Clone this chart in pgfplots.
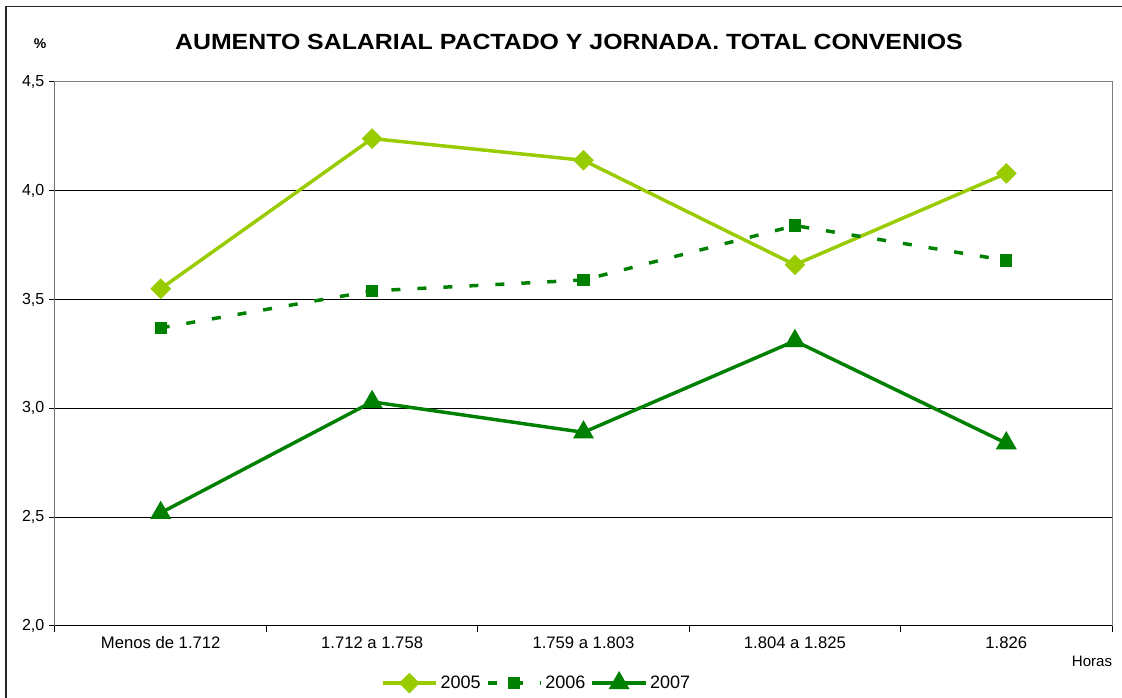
\documentclass[border=0pt]{standalone}
\usepackage{pgfplots}
\pgfplotsset{compat=1.18}
\usepackage{fontspec}
\setmainfont{Liberation Sans}
\definecolor{lightg}{HTML}{99CC00}
\definecolor{darkg}{HTML}{008000}
\begin{document}
\begin{tikzpicture}[x=0.75pt,y=0.75pt]
\useasboundingbox (0,0) rectangle (1122,698);
\draw[line width=1.1pt, black!85] (6,-5) -- (6,691.5) -- (1130,691.5);
\node[font=\fontsize{16.5}{20}\selectfont\bfseries, xscale=1.13] at (569,656) {AUMENTO SALARIAL PACTADO Y JORNADA. TOTAL CONVENIOS};
\node[font=\fontsize{10.5}{12}\selectfont\bfseries] at (40,654) {\%};
\node[font=\fontsize{11.3}{13}\selectfont] at (1092,37) {Horas};
\begin{axis}[
  at={(41.25pt,54pt)}, anchor=south west, scale only axis,
  width=792.75pt, height=408pt,
  xmin=-0.5, xmax=4.5, ymin=2, ymax=4.5,
  xtick={0,...,4},
  xticklabels={Menos de 1.712, 1.712 a 1.758, 1.759 a 1.803, 1.804 a 1.825, 1.826},
  major x tick style={draw=none},
  minor xtick={-0.5,0.5,1.5,2.5,3.5,4.5},
  ytick={2,2.5,...,4.5},
  ymajorgrids,
  grid style={black, line width=0.75pt},
  tick align=outside, tick pos=left,
  major tick length=4.5pt, minor tick length=4.5pt,
  tick style={black, line width=0.75pt},
  axis line style={draw=black!50, line width=0.75pt},
  xticklabel style={font=\fontsize{12.5}{14}\selectfont},
  yticklabel style={font=\fontsize{12}{14}\selectfont, /pgf/number format/.cd, fixed, fixed zerofill, precision=1, use comma, assume math mode=true},
  legend style={at={(0.456,-0.105)}, anchor=center, draw=none, fill=none,
    font=\fontsize{13.5}{15}\selectfont, legend columns=3,
    /tikz/every even column/.append style={column sep=2pt}},
  legend cell align=left,
  legend image code/.code={\draw[mark repeat=2,mark phase=2] plot coordinates {(0pt,0pt) (20pt,0pt) (40pt,0pt)};},
]
\addplot[lightg, line width=2.6pt, mark=square*, mark size=4.2pt, mark options={rotate=45}]
  coordinates {(0,3.55)(1,4.24)(2,4.14)(3,3.66)(4,4.08)};
\addlegendentry{2005}
\addplot[darkg, line width=2.6pt, dash pattern=on 6.75pt off 12.75pt, mark=square*, mark size=3.3pt, mark options={solid}]
  coordinates {(0,3.37)(1,3.54)(2,3.59)(3,3.84)(4,3.68)};
\addlegendentry{2006}
\addplot[darkg, line width=2.6pt, mark=triangle*, mark size=6.5pt, mark options={solid}]
  coordinates {(0,2.52)(1,3.03)(2,2.89)(3,3.31)(4,2.84)};
\addlegendentry{2007}
\draw[black, line width=0.75pt] (rel axis cs:0,1) -- (rel axis cs:0,0) -- (rel axis cs:1,0);
\end{axis}
\end{tikzpicture}
\end{document}
